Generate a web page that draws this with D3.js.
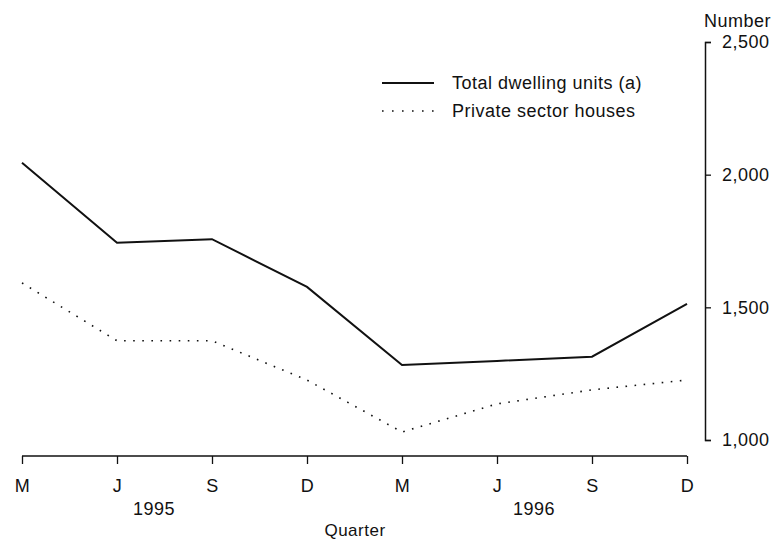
<!DOCTYPE html>
<html>
<head>
<meta charset="utf-8">
<script src="https://cdn.jsdelivr.net/npm/d3@7"></script>
<style>
  body { margin: 0; background: #fff; }
  svg text { font-family: "Liberation Sans", Arial, sans-serif; fill: #111; letter-spacing: 0.5px; }
</style>
</head>
<body>
<svg id="chart" width="783" height="539"></svg>
<script>
// quarters (Mar, Jun, Sep, Dec) for 1995 and 1996
var quarters = ["M", "J", "S", "D", "M", "J", "S", "D"];
var years = ["1995", "1996"];
var totalDwellings = [2045, 1743, 1757, 1577, 1283, 1298, 1314, 1513];
var privateHouses = [1592, 1374, 1374, 1226, 1030, 1136, 1189, 1226];
var yTicks = [1000, 1500, 2000, 2500];

var svg = d3.select("#chart");

var x = d3.scalePoint()
    .domain(d3.range(quarters.length))
    .range([22, 687]);

var y = d3.scaleLinear()
    .domain([1000, 2500])
    .range([440, 42]);

// x axis
var xAxis = svg.append("g")
    .attr("transform", "translate(0,456)")
    .call(d3.axisBottom(x)
        .tickSize(8)
        .tickFormat(function(i) { return quarters[i]; }));
xAxis.select(".domain").attr("d", "M" + x(0) + ",0H" + x(quarters.length - 1)).attr("stroke", "#111").attr("stroke-width", 1.3);
xAxis.selectAll(".tick line").attr("stroke", "#111").attr("stroke-width", 1.3);
xAxis.selectAll(".tick text")
    .attr("y", 23)
    .attr("dy", "0.71em")
    .style("font-size", "18px");

// years under J..S of each year
svg.append("g").selectAll("text")
    .data(years)
    .enter().append("text")
    .attr("x", function(d, i) { return x(i * 4 + 1) + 37; })
    .attr("y", 515)
    .attr("text-anchor", "middle")
    .style("font-size", "18px")
    .text(function(d) { return d; });

svg.append("text")
    .attr("x", 355)
    .attr("y", 536)
    .attr("text-anchor", "middle")
    .style("font-size", "17px")
    .text("Quarter");

// right y axis
var yAxis = svg.append("g")
    .attr("transform", "translate(705,0)")
    .call(d3.axisRight(y)
        .tickValues(yTicks)
        .tickSizeOuter(0)
        .tickSize(6)
        .tickFormat(d3.format(",")));
yAxis.select(".domain").attr("stroke", "#111").attr("stroke-width", 1.5);
yAxis.selectAll(".tick line").attr("stroke", "#111").attr("stroke-width", 1.3);
yAxis.selectAll(".tick text")
    .attr("x", 17)
    .style("font-size", "18px");

svg.append("text")
    .attr("x", 704)
    .attr("y", 27)
    .style("font-size", "18px")
    .text("Number");

// lines
var line = d3.line()
    .x(function(d, i) { return x(i); })
    .y(function(d) { return y(d); });

svg.append("path")
    .datum(totalDwellings)
    .attr("fill", "none")
    .attr("stroke", "#111")
    .attr("stroke-width", 2)
    .attr("d", line);

svg.append("path")
    .datum(privateHouses)
    .attr("fill", "none")
    .attr("stroke", "#111")
    .attr("stroke-width", 1.6)
    .attr("stroke-dasharray", "1.6,7.5")
    .attr("d", line);

// legend
var legend = [
    {name: "Total dwelling units (a)", dash: null, width: 2},
    {name: "Private sector houses", dash: "1.6,8.4", width: 1.6}
];
var lg = svg.append("g").selectAll("g")
    .data(legend)
    .enter().append("g")
    .attr("transform", function(d, i) { return "translate(382," + (83 + i * 28) + ")"; });
lg.append("line")
    .attr("x1", 0).attr("x2", 52)
    .attr("stroke", "#111")
    .attr("stroke-width", function(d) { return d.width; })
    .attr("stroke-dasharray", function(d) { return d.dash; });
lg.append("text")
    .attr("x", 70)
    .attr("dy", "0.35em")
    .style("font-size", "18px")
    .text(function(d) { return d.name; });
</script>
</body>
</html>
